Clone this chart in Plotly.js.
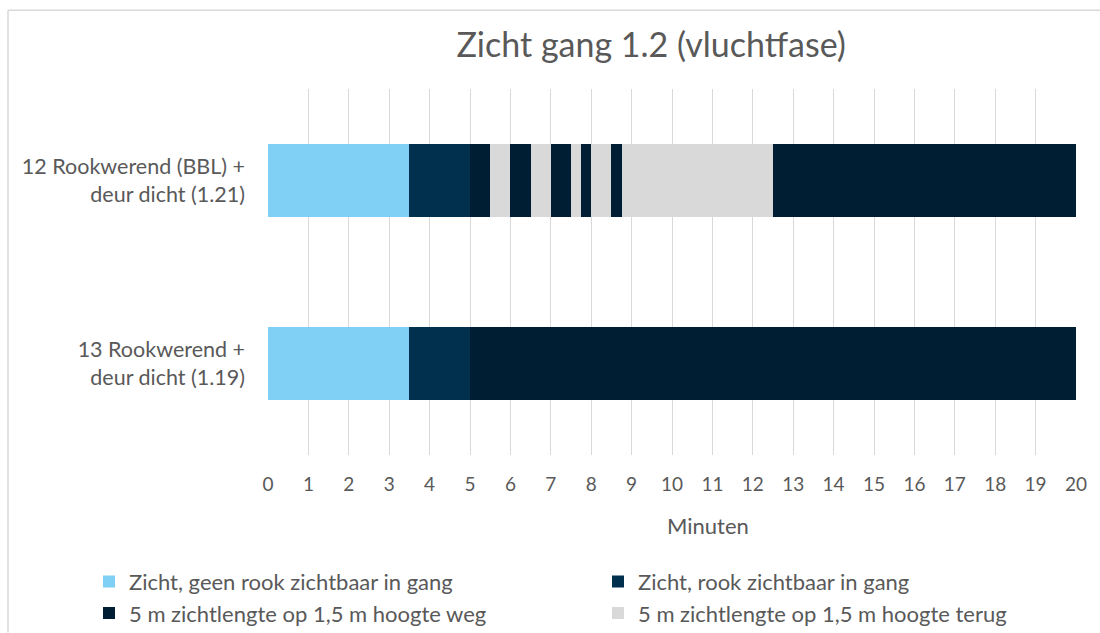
<!DOCTYPE html>
<html>
<head>
<meta charset="utf-8">
<script src="https://cdn.plot.ly/plotly-3.0.1.min.js"></script>
<style>html,body{margin:0;padding:0;background:#fff;}#chart{width:1100px;height:633px;}</style>
</head>
<body>
<div id="chart"></div>
<script>
// Categories (bottom to top)
const categories = ['13 Rookwerend +<br>deur dicht (1.19)', '12 Rookwerend (BBL) +<br>deur dicht (1.21)'];
// Legend series names
const seriesNames = [
  'Zicht, geen rook zichtbaar in gang',
  'Zicht, rook zichtbaar in gang',
  '5 m zichtlengte op 1,5 m hoogte weg',
  '5 m zichtlengte op 1,5 m hoogte terug'
];
// Which series each stacked segment belongs to
const segmentSeries = [0, 1, 2, 3, 2, 3, 2, 3, 2, 3, 2, 3, 2];
// Segment durations (minutes) per category
const durations13 = [3.5, 1.5, 15, 0, 0, 0, 0, 0, 0, 0, 0, 0, 0];
const durations12 = [3.5, 1.5, 0.5, 0.5, 0.5, 0.5, 0.5, 0.25, 0.25, 0.5, 0.25, 3.75, 7.5];
const xTicks = [0,1,2,3,4,5,6,7,8,9,10,11,12,13,14,15,16,17,18,19,20];
const xTitle = 'Minuten';

const seriesColors = ['#7FD0F4', '#00304E', '#001E33', '#D9D9D9'];
const FONT = 'Lato, Carlito, "Open Sans", sans-serif';
const TXT = '#595959';

const seen = {};
const traces = segmentSeries.map((s, i) => {
  const show = !seen[s];
  seen[s] = true;
  return {
    type: 'bar',
    orientation: 'h',
    y: categories,
    x: [durations13[i], durations12[i]],
    name: seriesNames[s],
    legendgroup: 's' + s,
    showlegend: show,
    marker: {color: seriesColors[s], line: {width: 0}},
    hoverinfo: 'x+name'
  };
});

const px = v => (v - 268) / 808;
const py = v => (455 - v) / 367;

const layout = {
  width: 1100, height: 633,
  margin: {l: 268, r: 24, t: 89, b: 178, pad: 0, autoexpand: false},
  paper_bgcolor: '#fff', plot_bgcolor: '#fff',
  barmode: 'stack',
  bargap: 0.6,
  font: {family: FONT, color: TXT, size: 19},
  title: {
    text: 'Zicht gang 1.2 (vluchtfase)',
    font: {family: FONT, size: 34, color: TXT},
    xref: 'container', yref: 'container',
    x: 0.592, y: 1 - 45/633, xanchor: 'center', yanchor: 'middle'
  },
  xaxis: {
    range: [0, 20],
    tickvals: xTicks,
    ticktext: xTicks.map(String),
    showgrid: true, gridcolor: '#D9D9D9', gridwidth: 1,
    zeroline: false, showline: false,
    ticks: '', ticklabelstandoff: 16,
    tickfont: {family: FONT, size: 19, color: TXT},
    fixedrange: true
  },
  yaxis: {
    type: 'category',
    range: [-0.5, 1.5],
    showgrid: false, zeroline: false, showline: false,
    ticks: '', ticklabelstandoff: 22,
    tickfont: {family: FONT, size: 21.5, color: TXT},
    fixedrange: true
  },
  annotations: [
    {text: xTitle, xref: 'paper', yref: 'paper', x: px(708), y: py(526),
     xanchor: 'center', yanchor: 'middle', showarrow: false,
     font: {family: FONT, size: 22, color: TXT}}
  ],
  legend: {
    orientation: 'h',
    x: px(89), y: py(561), xanchor: 'left', yanchor: 'top',
    entrywidth: 464, entrywidthmode: 'pixels',
    font: {family: FONT, size: 22, color: TXT},
    traceorder: 'normal',
    itemclick: false, itemdoubleclick: false
  },
  shapes: [
    {type: 'line', xref: 'paper', yref: 'paper', x0: px(8), x1: px(1100), y0: py(9), y1: py(9), line: {color: '#D9D9D9', width: 1.5}},
    {type: 'line', xref: 'paper', yref: 'paper', x0: px(8), x1: px(8), y0: py(9), y1: py(633), line: {color: '#D9D9D9', width: 1.5}}
  ],
  showlegend: true
};

Plotly.newPlot('chart', traces, layout, {displayModeBar: false, staticPlot: false});
</script>
</body>
</html>
